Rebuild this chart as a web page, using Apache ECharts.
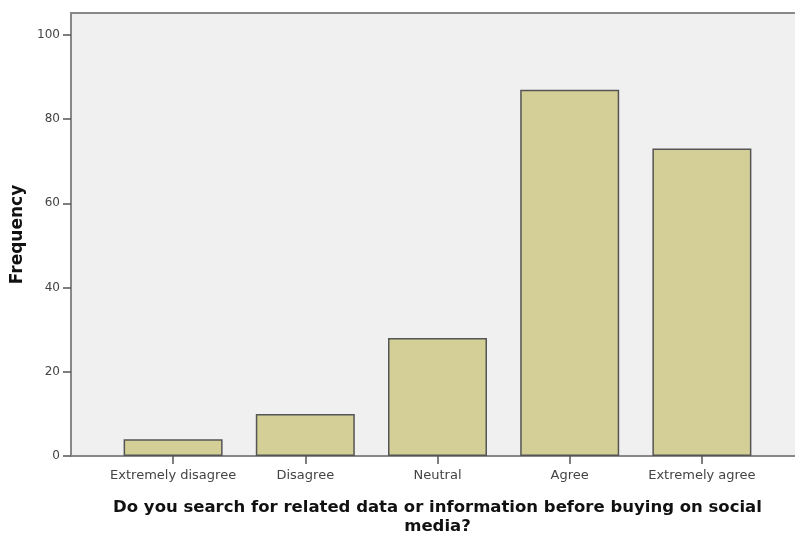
<!DOCTYPE html>
<html>
<head>
<meta charset="utf-8">
<script src="https://cdn.jsdelivr.net/npm/echarts@6/dist/echarts.min.js"></script>
<style>html,body{margin:0;padding:0;background:#fff}#c{width:795px;height:536px}</style>
</head>
<body>
<div id="c"></div>
<script>
const categories = ["Extremely disagree", "Disagree", "Neutral", "Agree", "Extremely agree"];
const frequency = [4, 10, 28, 87, 73];
const yTicks = [0, 20, 40, 60, 80, 100];
const xTitle = "Do you search for related data or information before buying on social\nmedia?";
const yTitle = "Frequency";

const chart = echarts.init(document.getElementById('c'), null, {renderer: 'canvas'});
const font = '"DejaVu Sans", Arial, sans-serif';
const yMax = 105.2;
chart.setOption({
  animation: false,
  grid: [
    {left: 71, right: -3, top: 13, bottom: 80, show: true, backgroundColor: '#f0f0f0', borderColor: '#888', borderWidth: 2, outerBoundsMode: 'none', containLabel: false},
    {left: 107, right: 27, top: 13, bottom: 80, outerBoundsMode: 'none', containLabel: false}
  ],
  xAxis: [
    {gridIndex: 0, type: 'value', min: 0, max: 1, axisLine: {show: true, lineStyle: {color: '#888', width: 2}}, axisTick: {show: false}, axisLabel: {show: false}, splitLine: {show: false}},
    {gridIndex: 1, type: 'category', data: categories,
      axisLine: {show: false},
      axisTick: {show: true, alignWithLabel: true, length: 8, lineStyle: {color: '#555', width: 1.5}},
      axisLabel: {color: '#444', fontFamily: font, fontSize: 13, margin: 13, interval: 0},
      name: xTitle, nameLocation: 'middle', nameGap: 42,
      nameTextStyle: {fontFamily: font, fontWeight: 'bold', fontSize: 16.5, color: '#111', lineHeight: 19}
    }
  ],
  yAxis: [
    {gridIndex: 0, type: 'value', min: 0, max: yMax,
      axisLine: {show: true, lineStyle: {color: '#888', width: 2}},
      axisTick: {show: true, length: 8, customValues: yTicks, lineStyle: {color: '#555', width: 1.5}},
      axisLabel: {color: '#444', fontFamily: font, fontSize: 12, margin: 11, customValues: yTicks},
      splitLine: {show: false},
      name: yTitle, nameLocation: 'middle', nameGap: 42,
      nameTextStyle: {fontFamily: font, fontWeight: 'bold', fontSize: 17, color: '#111'}
    },
    {gridIndex: 1, type: 'value', min: 0, max: yMax, show: false, splitLine: {show: false}}
  ],
  series: [{
    type: 'bar', xAxisIndex: 1, yAxisIndex: 1, data: frequency, barWidth: 99,
    itemStyle: {color: '#d3cf96', borderColor: '#555', borderWidth: 1.5}
  }]
});
</script>
</body>
</html>
